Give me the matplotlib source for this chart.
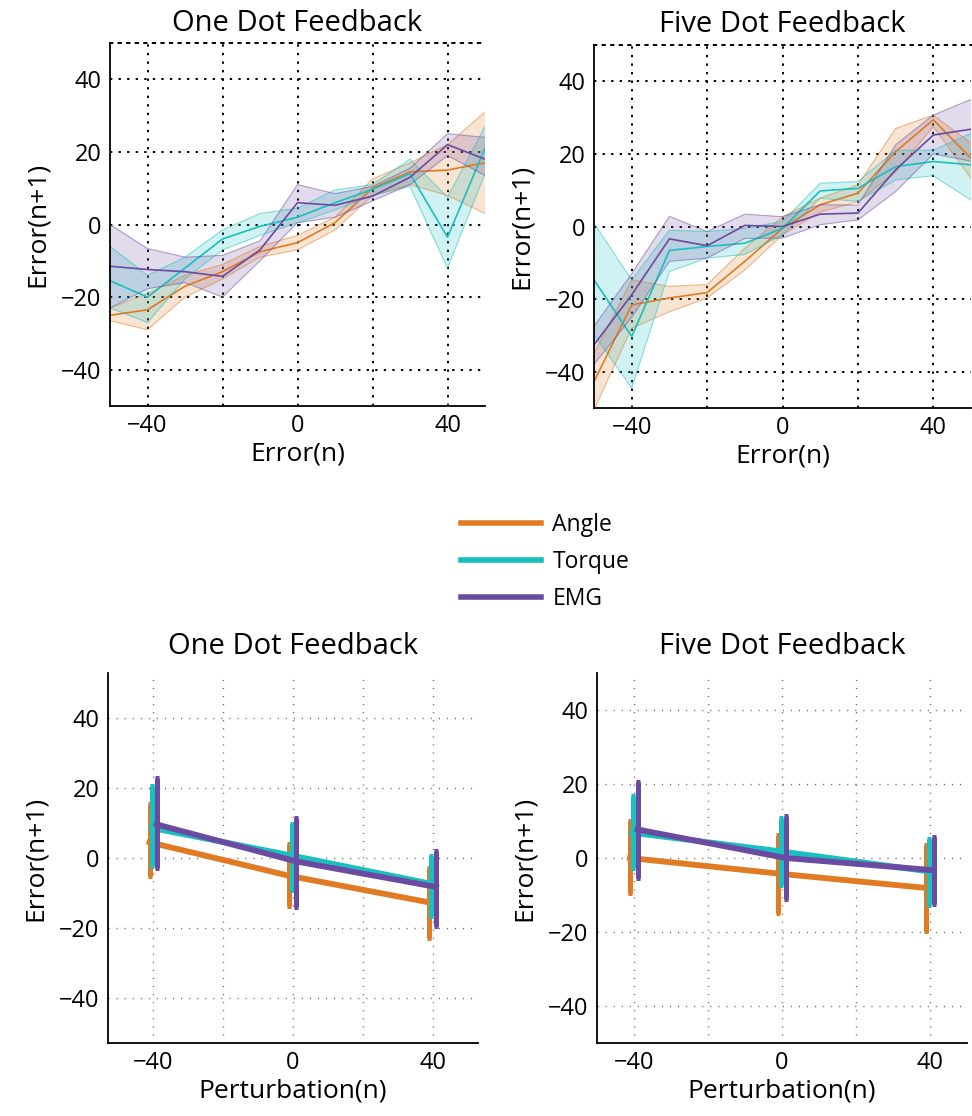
import numpy as np
import matplotlib
matplotlib.use("Agg")
import matplotlib.pyplot as plt

# colours for the three signals
ANGLE_C = "#e07b24"
TORQUE_C = "#1abfbf"
EMG_C = "#6b4ba1"

names = ["Angle", "Torque", "EMG"]
colors = [ANGLE_C, TORQUE_C, EMG_C]

###############################################
############      TOP PANELS       ############
###############################################

err_n = [-50, -40, -30, -20, -10, 0, 10, 20, 30, 40, 50]

# one dot feedback: mean, lower, upper
one_angle = [-25, -23.5, -17, -13, -7.5, -5, 0.5, 10, 14.5, 15, 17]
one_angle_lo = [-26.5, -29, -20, -15, -9, -7, -1.5, 8, 11, 8, 3]
one_angle_hi = [-23, -19, -14, -11, -6, -3, 2, 12.5, 17, 22, 31]

one_torque = [-15.5, -20, -12, -4, -0.5, 2, 6, 9.7, 14, -3.5, 21]
one_torque_lo = [-23, -27, -15, -7, -3, 0.5, 4, 8, 10.5, -12, 14]
one_torque_hi = [-6, -14, -9, -1.5, 3, 4.5, 9.5, 11, 18, 7.5, 27]

one_emg = [-11.5, -12.4, -13, -14.3, -7, 6, 5.3, 7.8, 13, 22, 18]
one_emg_lo = [-23, -17.7, -16, -20, -10, 0.5, 2, 6.5, 11, 19, 13.5]
one_emg_hi = [0, -6.6, -9, -8.5, -4.5, 11, 8.5, 10.5, 15.5, 25, 24]

# five dot feedback
five_angle = [-42.7, -21.6, -19.7, -18.2, -9.6, -0.5, 6, 9.2, 20.6, 29.4, 18.8]
five_angle_lo = [-50.5, -28, -23.5, -19.7, -12, -2.3, 4, 6.8, 15, 27.5, 13.3]
five_angle_hi = [-35, -14.7, -16.5, -16, -6, 2.7, 7.8, 11.5, 27, 30.7, 23]

five_torque = [-14.7, -30.3, -6.6, -5.5, -4.6, -0.5, 9.8, 10.5, 16.5, 17.9, 17]
five_torque_lo = [-29.8, -44.5, -12.4, -8.7, -7.7, -2.3, 7.8, 6.9, 12.8, 14, 7.3]
five_torque_hi = [0.9, -14.7, -1, -1.4, -0.5, 1.4, 11.9, 12.4, 21, 21, 25.7]

five_emg = [-32.6, -18.8, -3.4, -5.3, 0.3, 0, 3.4, 3.7, 15.6, 25.2, 26.8]
five_emg_lo = [-38, -25, -9.6, -8.7, -3.3, -3.2, 0.5, 1.8, 9.6, 20, 18]
five_emg_hi = [-27.5, -13, 2.8, -1.4, 3.4, 2.7, 6, 5.9, 22.5, 30.7, 35]

###############################################
############     BOTTOM PANELS     ############
###############################################

pert_n = [-40, 0, 40]
# small x offsets so the bars do not overlap
x_shift = [-1.1, -0.4, 1.0]

one_mean = [[4.5, -5.1, -12.7], [8.6, 0.7, -7.4], [9.6, -1.0, -8.3]]
one_lo = [[-5.1, -13.7, -23.0], [-2.4, -9.1, -16.6], [-2.9, -13.9, -19.6]]
one_hi = [[15.6, 4.1, -2.9], [20.6, 9.6, 0.5], [22.8, 11.5, 1.9]]

five_mean = [[0.0, -4.2, -8.1], [6.8, 1.8, -3.6], [7.7, 0.0, -3.3]]
five_lo = [[-9.5, -14.9, -19.8], [-2.7, -7.2, -12.6], [-5.4, -11.1, -12.3]]
five_hi = [[9.9, 6.3, 3.6], [16.7, 10.8, 5.1], [20.5, 11.3, 5.7]]

plt.rcParams['font.family'] = ['Open Sans', 'DejaVu Sans']

W, H = 972, 1116
fig = plt.figure(figsize=(W / 100, H / 100), dpi=100)


def box(x0, y0, x1, y1):
    return [x0 / W, 1 - y1 / H, (x1 - x0) / W, (y1 - y0) / H]


def style_axes(ax, lim, dense):
    ax.set_xlim(-lim, lim)
    ax.set_ylim(-lim, lim)
    ax.set_xticks([-40, -20, 0, 20, 40])
    ax.set_xticklabels(["\u221240", "", "0", "", "40"])
    ax.set_yticks([-40, -20, 0, 20, 40])
    ax.set_yticklabels(["\u221240", "\u221220", "0", "20", "40"])
    ax.tick_params(labelsize=17, length=0, pad=6)
    ax.spines['right'].set_visible(False)
    ax.spines['left'].set_linewidth(1.3)
    ax.spines['bottom'].set_linewidth(1.3)
    if dense:
        ax.grid(True, color="black", linestyle=(0, (1.2, 3.2)), linewidth=1.4)
        ax.spines['top'].set_linestyle((0, (1.2, 3.2)))
        ax.spines['top'].set_linewidth(1.4)
    else:
        ax.grid(True, color="#666666", linestyle=(0, (0.8, 5)), linewidth=1.0)
        ax.spines['top'].set_visible(False)
    ax.set_axisbelow(True)


def plot_bands(ax, series):
    for (m, lo, hi), c in zip(series, colors):
        ax.fill_between(err_n, lo, hi, facecolor=c, alpha=0.2,
                        edgecolor="none")
        ax.plot(err_n, lo, color=c, lw=0.8, alpha=0.5)
        ax.plot(err_n, hi, color=c, lw=0.8, alpha=0.5)
        ax.plot(err_n, m, color=c, lw=1.2)


ax1 = fig.add_axes(box(110, 43, 485, 406))
plot_bands(ax1, [(one_angle, one_angle_lo, one_angle_hi),
                 (one_torque, one_torque_lo, one_torque_hi),
                 (one_emg, one_emg_lo, one_emg_hi)])
style_axes(ax1, 50, True)
ax1.set_title("One Dot Feedback", fontsize=21, pad=9)
ax1.set_xlabel("Error(n)", fontsize=19, labelpad=2)
ax1.set_ylabel("Error(n+1)", fontsize=19, labelpad=8)

ax2 = fig.add_axes(box(594, 45, 971, 408))
plot_bands(ax2, [(five_angle, five_angle_lo, five_angle_hi),
                 (five_torque, five_torque_lo, five_torque_hi),
                 (five_emg, five_emg_lo, five_emg_hi)])
style_axes(ax2, 50, True)
ax2.set_title("Five Dot Feedback", fontsize=21, pad=9)
ax2.set_xlabel("Error(n)", fontsize=19, labelpad=2)
ax2.set_ylabel("Error(n+1)", fontsize=19, labelpad=8)


def plot_bars(ax, means, los, his):
    for i, c in enumerate(colors):
        xs = np.array(pert_n) + x_shift[i]
        m = np.array(means[i])
        yerr = [m - np.array(los[i]), np.array(his[i]) - m]
        ax.errorbar(xs, m, yerr=yerr, color=c, lw=4.2, elinewidth=3.6,
                    capsize=1.5, capthick=3.6, zorder=3 + i)


ax3 = fig.add_axes(box(108, 673, 478, 1043))
plot_bars(ax3, one_mean, one_lo, one_hi)
style_axes(ax3, 53, False)
ax3.set_title("One Dot Feedback", fontsize=21, pad=14)
ax3.set_xlabel("Perturbation(n)", fontsize=19, labelpad=2)
ax3.set_ylabel("Error(n+1)", fontsize=19, labelpad=8)

ax4 = fig.add_axes(box(597, 673, 967, 1043))
plot_bars(ax4, five_mean, five_lo, five_hi)
style_axes(ax4, 50, False)
ax4.set_title("Five Dot Feedback", fontsize=21, pad=14)
ax4.set_xlabel("Perturbation(n)", fontsize=19, labelpad=2)
ax4.set_ylabel("Error(n+1)", fontsize=19, labelpad=8)

# shared legend in the middle
handles = [plt.Line2D([], [], color=c, lw=4) for c in colors]
fig.legend(handles, names, loc="center left",
           bbox_to_anchor=(440 / W, 1 - 562 / H), frameon=False,
           fontsize=16.5, handlelength=3.5, handletextpad=0.5,
           labelspacing=0.55)

fig.savefig("out.png", dpi=100)
